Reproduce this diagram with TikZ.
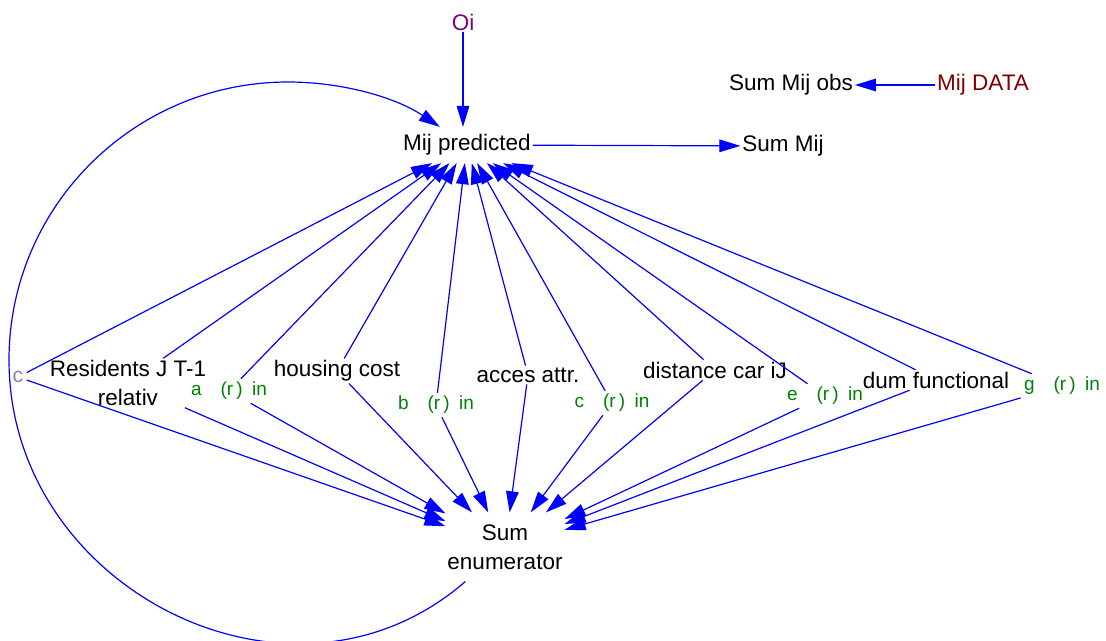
\documentclass[tikz,border=0pt]{standalone}
\usepackage{fontspec}
\setmainfont{Liberation Sans}
\usetikzlibrary{arrows.meta}

\definecolor{linkblue}{RGB}{0,0,255}
\definecolor{inputgreen}{RGB}{0,128,0}
\definecolor{shadowgrey}{RGB}{128,128,192}
\definecolor{datared}{RGB}{128,0,0}
\definecolor{constpurple}{RGB}{128,0,128}

\newcommand{\rin}[1]{#1\quad(r\,)\enspace in}

\begin{document}
\begin{tikzpicture}[x=0.025cm, y=0.025cm, line width=0.85pt]
				\tikzstyle{linkedge} = [linkblue, -{Triangle[length=15pt,width=9pt]}]
				\tikzstyle{varname} = [font=\fontsize{16}{20.6}\selectfont, inner sep=1pt, align=center]
				\tikzstyle{greenname} = [font=\fontsize{13.5}{16}\selectfont, text=inputgreen, inner sep=2pt]
				
				\useasboundingbox (0,0) rectangle (1106,-640);
				
				\node[varname, text=constpurple] (oi) at (463,-22) {Oi};
				\node[varname, minimum height=0.875cm] (pred) at (467,-145) {Mij predicted};
				\node[varname] (summij) at (783,-146) {Sum Mij};
				\node[varname] (sumobs) at (791,-85) {Sum Mij obs};
				\node[varname, text=datared] (mijdata) at (983,-85) {Mij DATA};
				
				\node[greenname, text=shadowgrey, font=\fontsize{15}{16}\selectfont] (cvar) at (18,-377) {c};
				\node[varname] (resid) at (128,-383) {Residents J T-1\\relativ};
				\node[greenname] (ain) at (229,-391) {\rin{a}};
				\node[varname] (housing) at (337,-371) {housing cost};
				\node[greenname] (bin) at (436,-405) {\rin{b}};
				\node[varname] (acces) at (528,-375) {acces attr.};
				\node[greenname] (cin) at (612,-403) {\rin{c}};
				\node[varname] (dist) at (715,-370) {distance car iJ};
				\node[greenname] (ein) at (825,-396) {\rin{e}};
				\node[varname] (dum) at (936,-380) {dum functional};
				\node[greenname] (gin) at (1062,-386) {\rin{g}};
				
				\node[varname, minimum height=1.7cm] (enum) at (505,-547) {Sum\\enumerator};
				
				\coordinate (loopwest) at (9,-360);
				\coordinate (loopnorth) at (288,-82);
				
				\draw [linkedge] (oi) -- (oi |- pred.north);
				\draw [linkedge] (pred) -- (summij);
				\draw [linkedge] (mijdata) -- (sumobs);
				
				\draw [linkedge] (cvar) -- (pred);
				\draw [linkedge] (resid) -- (pred);
				\draw [linkedge] (ain) -- (pred);
				\draw [linkedge] (housing) -- (pred);
				\draw [linkedge] (bin) -- (pred);
				\draw [linkedge] (acces) -- (pred);
				\draw [linkedge] (cin) -- (pred);
				\draw [linkedge] (dist) -- (pred);
				\draw [linkedge] (ein) -- (pred);
				\draw [linkedge] (dum) -- (pred);
				\draw [linkedge] (gin) -- (pred);
				
				\draw [linkedge] (cvar) -- (enum);
				\draw [linkedge] (resid) -- (enum);
				\draw [linkedge] (ain) -- (enum);
				\draw [linkedge] (housing) -- (enum);
				\draw [linkedge] (bin) -- (enum);
				\draw [linkedge] (acces) -- (enum);
				\draw [linkedge] (cin) -- (enum);
				\draw [linkedge] (dist) -- (enum);
				\draw [linkedge] (ein) -- (enum);
				\draw [linkedge] (dum) -- (enum);
				\draw [linkedge] (gin) -- (enum);
				
				\draw [linkedge] (enum) to[out=-139, in=-90, looseness=1.16] (loopwest)
					to[out=90, in=180, looseness=1] (loopnorth)
					to[out=0, in=146.5, looseness=0.87] (pred);
				
\end{tikzpicture}
\end{document}
